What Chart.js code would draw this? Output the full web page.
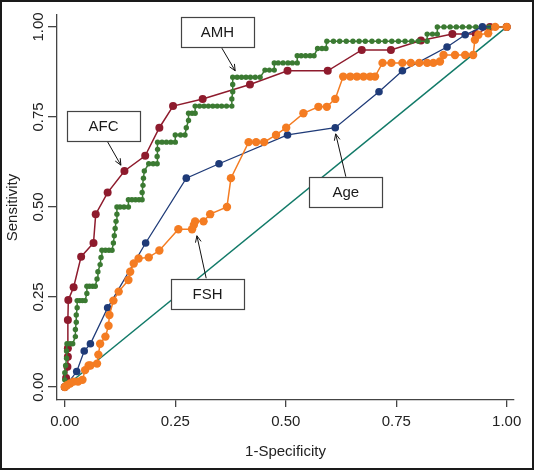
<!DOCTYPE html>
<html><head><meta charset="utf-8">
<script src="https://cdn.jsdelivr.net/npm/chart.js@4.4.1/dist/chart.umd.min.js"></script>
<style>html,body{margin:0;padding:0;background:#fff}#wrap{width:534px;height:470px}</style>
</head><body><div id="wrap"><canvas id="c" width="534" height="470"></canvas></div>
<script>
// ---- data (1-specificity, sensitivity) ----
const xTicks = [0, 0.25, 0.5, 0.75, 1];
const xTickLabels = ['0.00', '0.25', '0.50', '0.75', '1.00'];
const yTicks = [0, 0.25, 0.5, 0.75, 1];
const yTickLabels = ['0.00', '0.25', '0.50', '0.75', '1.00'];
const xTitle = '1-Specificity';
const yTitle = 'Sensitivity';
const seriesNames = ['AFC', 'AMH', 'FSH', 'Age'];

const afcRoc = [[0,0],[0.003,0.025],[0.006,0.056],[0.007,0.084],[0.007,0.108],[0.007,0.186],[0.008,0.242],[0.02,0.277],[0.037,0.362],[0.065,0.40],[0.07,0.48],[0.097,0.54],[0.135,0.60],[0.182,0.642],[0.214,0.72],[0.245,0.78],[0.312,0.80],[0.419,0.84],[0.504,0.878],[0.595,0.878],[0.672,0.936],[0.738,0.936],[0.806,0.962],[0.877,0.98],[0.93,0.98],[0.962,1.0],[1,1]];

const amhRoc = [[0,0],[0,0.02],[0,0.04],[0.002,0.06],[0.004,0.08],[0.004,0.10],[0.005,0.12],[0.012,0.12],[0.018,0.12],[0.024,0.14],[0.024,0.16],[0.026,0.18],[0.026,0.20],[0.028,0.22],[0.028,0.24],[0.034,0.24],[0.04,0.24],[0.046,0.24],[0.05,0.26],[0.05,0.28],[0.056,0.28],[0.063,0.28],[0.069,0.28],[0.073,0.30],[0.075,0.32],[0.08,0.34],[0.082,0.36],[0.084,0.38],[0.092,0.38],[0.1,0.38],[0.107,0.38],[0.11,0.40],[0.112,0.42],[0.114,0.44],[0.116,0.46],[0.118,0.48],[0.118,0.50],[0.125,0.50],[0.134,0.50],[0.144,0.50],[0.144,0.52],[0.152,0.52],[0.16,0.52],[0.168,0.52],[0.175,0.52],[0.175,0.54],[0.177,0.56],[0.178,0.58],[0.18,0.60],[0.19,0.62],[0.2,0.62],[0.209,0.62],[0.209,0.64],[0.21,0.66],[0.21,0.68],[0.22,0.68],[0.23,0.68],[0.24,0.68],[0.25,0.68],[0.25,0.70],[0.262,0.70],[0.272,0.70],[0.275,0.72],[0.28,0.74],[0.28,0.76],[0.288,0.76],[0.295,0.76],[0.295,0.78],[0.305,0.78],[0.315,0.78],[0.325,0.78],[0.335,0.78],[0.345,0.78],[0.355,0.78],[0.366,0.78],[0.378,0.78],[0.378,0.80],[0.38,0.82],[0.38,0.84],[0.38,0.86],[0.39,0.86],[0.4,0.86],[0.41,0.86],[0.42,0.86],[0.431,0.86],[0.442,0.86],[0.453,0.88],[0.463,0.88],[0.474,0.88],[0.474,0.90],[0.483,0.90],[0.494,0.90],[0.505,0.90],[0.515,0.90],[0.526,0.90],[0.526,0.92],[0.535,0.92],[0.545,0.92],[0.555,0.92],[0.564,0.92],[0.572,0.94],[0.582,0.94],[0.591,0.94],[0.593,0.96],[0.608,0.96],[0.622,0.96],[0.637,0.96],[0.652,0.96],[0.666,0.96],[0.68,0.96],[0.695,0.96],[0.71,0.96],[0.725,0.96],[0.74,0.96],[0.755,0.96],[0.77,0.96],[0.785,0.96],[0.8,0.96],[0.82,0.96],[0.82,0.98],[0.832,0.98],[0.843,0.98],[0.843,1.0],[0.858,1.0],[0.872,1.0],[0.886,1.0],[0.9,1.0],[0.915,1.0],[0.93,1.0],[0.945,1.0],[0.96,1.0],[0.975,1.0],[1,1]];

const fshRoc = [[0,0],[0.005,0.005],[0.012,0.01],[0.02,0.015],[0.03,0.015],[0.04,0.02],[0.046,0.047],[0.054,0.06],[0.058,0.06],[0.073,0.065],[0.076,0.09],[0.08,0.12],[0.092,0.14],[0.099,0.17],[0.101,0.20],[0.11,0.24],[0.122,0.265],[0.144,0.297],[0.148,0.32],[0.156,0.343],[0.167,0.357],[0.19,0.36],[0.214,0.379],[0.257,0.438],[0.288,0.438],[0.292,0.45],[0.295,0.46],[0.314,0.46],[0.329,0.48],[0.367,0.50],[0.376,0.58],[0.416,0.68],[0.433,0.68],[0.451,0.68],[0.478,0.70],[0.501,0.72],[0.54,0.76],[0.574,0.778],[0.593,0.778],[0.612,0.80],[0.63,0.862],[0.646,0.862],[0.661,0.862],[0.676,0.862],[0.691,0.862],[0.702,0.862],[0.719,0.90],[0.739,0.90],[0.764,0.90],[0.783,0.90],[0.802,0.90],[0.82,0.90],[0.834,0.90],[0.849,0.904],[0.857,0.922],[0.883,0.922],[0.906,0.922],[0.924,0.922],[0.928,0.964],[0.936,0.978],[0.958,0.982],[0.974,1.0],[1,1]];

const ageRoc = [[0,0],[0.027,0.043],[0.044,0.10],[0.058,0.12],[0.097,0.22],[0.183,0.40],[0.275,0.58],[0.349,0.62],[0.504,0.70],[0.612,0.72],[0.711,0.82],[0.764,0.878],[0.865,0.944],[0.906,0.978],[0.945,1.0],[1,1]];

const refRoc = [[0,0],[1,1]];

// ---- styling / annotation placement ----
const colors = {AFC:'#8e1b2d', AMH:'#3b7a32', FSH:'#f47c22', Age:'#1f3b78', ref:'#117a68'};
const annotations = [
  {text:'AFC', at:[0.0877,0.7244], tail:[0.0968,0.681], head:[0.127,0.616]},
  {text:'AMH', at:[0.3456,0.985], tail:[0.3555,0.941], head:[0.3856,0.878]},
  {text:'FSH', at:[0.323,0.258], tail:[0.32,0.302], head:[0.299,0.42]},
  {text:'Age', at:[0.636,0.541], tail:[0.636,0.584], head:[0.613,0.703]}
];

const toPts = arr => arr.map(p => ({x:p[0], y:p[1]}));
const FONT = 'Liberation Sans, Arial, Helvetica, sans-serif';

function ds(name, arr, color, radius, width, order) {
  return {label:name, data:toPts(arr), showLine:true, borderColor:color, backgroundColor:color,
    pointBackgroundColor:color, pointBorderColor:color, pointBorderWidth:0, pointRadius:radius,
    pointHoverRadius:radius, borderWidth:width, tension:0, order:order, clip:false};
}

const annoPlugin = {
  id:'anno',
  afterDatasetsDraw(chart) {
    const ctx = chart.ctx, sx = chart.scales.x, sy = chart.scales.y;
    ctx.save();
    annotations.forEach(a => {
      const tx = sx.getPixelForValue(a.tail[0]), ty = sy.getPixelForValue(a.tail[1]);
      const hx = sx.getPixelForValue(a.head[0]), hy = sy.getPixelForValue(a.head[1]);
      ctx.strokeStyle = '#111'; ctx.lineWidth = 1;
      ctx.beginPath(); ctx.moveTo(tx, ty); ctx.lineTo(hx, hy); ctx.stroke();
      const ang = Math.atan2(hy - ty, hx - tx), L = 7, s = 0.42;
      ctx.beginPath();
      ctx.moveTo(hx - L*Math.cos(ang - s), hy - L*Math.sin(ang - s));
      ctx.lineTo(hx, hy);
      ctx.lineTo(hx - L*Math.cos(ang + s), hy - L*Math.sin(ang + s));
      ctx.stroke();
      const cx = sx.getPixelForValue(a.at[0]), cy = sy.getPixelForValue(a.at[1]);
      const w = 73, h = 30;
      ctx.fillStyle = '#fff';
      ctx.fillRect(cx - w/2, cy - h/2, w, h);
      ctx.strokeStyle = '#444'; ctx.lineWidth = 1.2;
      ctx.strokeRect(Math.round(cx - w/2) + 0.5, Math.round(cy - h/2) + 0.5, w, h);
      ctx.fillStyle = '#1a1a1a';
      ctx.font = '15px ' + FONT;
      ctx.textAlign = 'center'; ctx.textBaseline = 'middle';
      ctx.fillText(a.text, cx, cy + 1);
    });
    ctx.restore();
  },
  afterDraw(chart) {
    const ctx = chart.ctx;
    ctx.save();
    ctx.strokeStyle = '#1a1a1a'; ctx.lineWidth = 2;
    ctx.strokeRect(1, 1, chart.width - 2, chart.height - 2);
    ctx.restore();
  }
};

const lbl = (ticks, labels) => v => { const i = ticks.findIndex(t => Math.abs(t - v) < 1e-9); return i >= 0 ? labels[i] : ''; };

new Chart(document.getElementById('c'), {
  type:'scatter',
  data:{datasets:[
    ds(seriesNames[2], fshRoc, colors.FSH, 4.2, 1.5, 0),
    ds(seriesNames[3], ageRoc, colors.Age, 3.8, 1.3, 1),
    ds(seriesNames[1], amhRoc, colors.AMH, 2.7, 1.5, 2),
    ds(seriesNames[0], afcRoc, colors.AFC, 4, 1.5, 3),
    ds('Reference', refRoc, colors.ref, 0, 1.5, 4)
  ]},
  options:{
    responsive:false, animation:false, devicePixelRatio:1,
    layout:{padding:{left:0, right:20, top:15, bottom:0}},
    plugins:{legend:{display:false}, tooltip:{enabled:false}},
    scales:{
      x:{type:'linear', min:-0.0176, max:1.0165,
        afterBuildTicks:s => { s.ticks = xTicks.map(v => ({value:v})); },
        afterFit:s => { s.height = 70; },
        ticks:{callback:lbl(xTicks, xTickLabels), font:{family:FONT, size:15}, color:'#222', padding:6, maxRotation:0, autoSkip:false},
        grid:{drawOnChartArea:false, drawTicks:true, tickLength:7, color:'#444', lineWidth:1.3},
        border:{display:true, color:'#444', width:1.3},
        title:{display:true, text:xTitle, font:{family:FONT, size:15}, color:'#222', padding:{top:0, bottom:9}}
      },
      y:{type:'linear', min:-0.036, max:1.033,
        afterBuildTicks:s => { s.ticks = yTicks.map(v => ({value:v})); },
        afterFit:s => { s.width = 57; },
        ticks:{callback:lbl(yTicks, yTickLabels), font:{family:FONT, size:15}, color:'#222', padding:-5, minRotation:90, maxRotation:90, crossAlign:'center', autoSkip:false},
        grid:{drawOnChartArea:false, drawTicks:true, tickLength:9, color:'#444', lineWidth:1.3},
        border:{display:true, color:'#444', width:1.3},
        title:{display:true, text:yTitle, font:{family:FONT, size:15}, color:'#222', padding:{top:4, bottom:0}}
      }
    }
  },
  plugins:[annoPlugin]
});
</script></body></html>
